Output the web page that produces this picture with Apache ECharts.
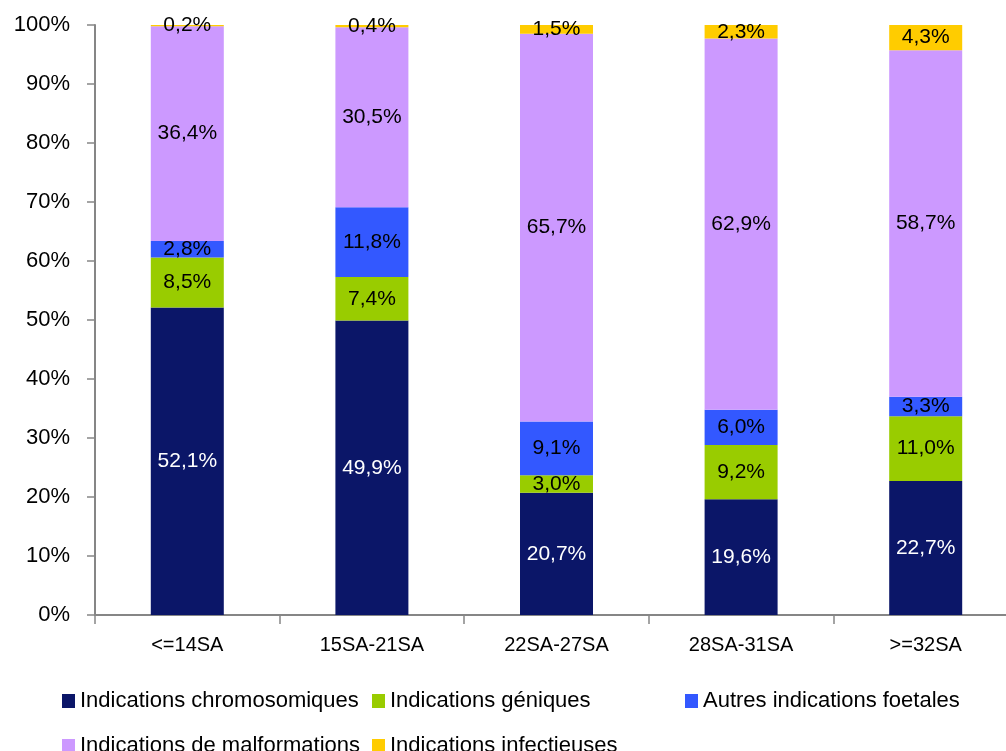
<!DOCTYPE html>
<html>
<head>
<meta charset="utf-8">
<script src="https://cdn.jsdelivr.net/npm/echarts@6/dist/echarts.min.js"></script>
<style>
html,body{margin:0;padding:0;background:#fff;}
#c{width:1006px;height:751px;}
</style>
</head>
<body>
<div id="c"></div>
<script>
const categories = ['<=14SA', '15SA-21SA', '22SA-27SA', '28SA-31SA', '>=32SA'];
const seriesNames = ['Indications chromosomiques', 'Indications géniques', 'Autres indications foetales', 'Indications de malformations', 'Indications infectieuses'];
const chromosomiques = [52.1, 49.9, 20.7, 19.6, 22.7];
const geniques = [8.5, 7.4, 3.0, 9.2, 11.0];
const autres = [2.8, 11.8, 9.1, 6.0, 3.3];
const malformations = [36.4, 30.5, 65.7, 62.9, 58.7];
const infectieuses = [0.2, 0.4, 1.5, 2.3, 4.3];
const yTicks = [0, 10, 20, 30, 40, 50, 60, 70, 80, 90, 100];

const colors = ['#0b1668', '#99cc00', '#3358ff', '#cc99ff', '#ffcc00'];
const labelColors = ['#ffffff', '#000000', '#000000', '#000000', '#000000'];
const values = [chromosomiques, geniques, autres, malformations, infectieuses];
const FONT = "'Liberation Sans', Arial, sans-serif";

const series = seriesNames.map((name, i) => ({
  name: name,
  type: 'bar',
  stack: 'total',
  barWidth: 73,
  data: values[i],
  itemStyle: { color: colors[i] },
  label: {
    show: true,
    position: 'inside',
    color: labelColors[i],
    fontFamily: FONT,
    fontSize: 21,
    formatter: p => p.value.toFixed(1).replace('.', ',') + '%'
  }
}));

const legendPos = [
  { left: 62, top: 690 },
  { left: 372, top: 690 },
  { left: 685, top: 690 },
  { left: 62, top: 735 },
  { left: 372, top: 735 }
];
const legends = seriesNames.map((name, i) => ({
  data: [name],
  left: legendPos[i].left,
  top: legendPos[i].top,
  padding: 0,
  itemWidth: 13,
  itemHeight: 14,
  icon: 'rect',
  selectedMode: false,
  textStyle: { fontFamily: FONT, fontSize: 22, color: '#000' }
}));

const chart = echarts.init(document.getElementById('c'), null, { renderer: 'canvas' });
chart.setOption({
  animation: false,
  backgroundColor: '#ffffff',
  grid: { left: 95, width: 923, top: 25, height: 590, containLabel: false, outerBoundsMode: 'none' },
  legend: legends,
  xAxis: {
    type: 'category',
    data: categories,
    axisLine: { lineStyle: { color: '#868686', width: 2 } },
    axisTick: { show: true, length: 9, lineStyle: { color: '#868686', width: 1.5 } },
    axisLabel: { color: '#000', fontFamily: FONT, fontSize: 20, margin: 20 }
  },
  yAxis: {
    type: 'value',
    min: 0,
    max: 100,
    interval: 10,
    axisLine: { show: true, lineStyle: { color: '#868686', width: 2 } },
    axisTick: { show: true, inside: false, length: 8, lineStyle: { color: '#868686', width: 1.5 } },
    splitLine: { show: false },
    axisLabel: { color: '#000', fontFamily: FONT, fontSize: 22, margin: 25,
      formatter: v => yTicks.includes(v) ? v + '%' : '' }
  },
  series: series
});
</script>
</body>
</html>
